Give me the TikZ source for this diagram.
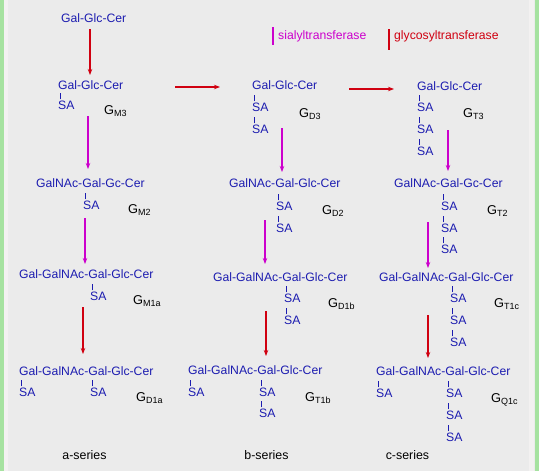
\documentclass[tikz,border=0pt]{standalone}
\usepackage{fontspec}
\setmainfont{Liberation Sans}
\usetikzlibrary{arrows.meta}
\definecolor{bgc}{HTML}{EBEBEB}
\definecolor{greenstrip}{HTML}{A6E2A0}
\definecolor{lightstrip}{HTML}{F3F1F1}
\definecolor{blueT}{HTML}{1C1CB0}
\definecolor{magc}{HTML}{CC00CC}
\definecolor{redc}{HTML}{D00010}
\tikzset{
  txt/.style={anchor=base west, inner sep=0pt, yshift=-4.4pt, font=\fontsize{12.2}{14}\selectfont, text=blueT},
  lbl/.style={anchor=base west, inner sep=0pt, yshift=-4.4pt, font=\fontsize{12.8}{14}\selectfont, text=black},
  ser/.style={anchor=center, inner sep=0pt, font=\fontsize{12.4}{14}\selectfont, text=black},
  leg/.style={anchor=west, inner sep=0pt, font=\fontsize{12.2}{14}\selectfont},
  bar/.style={draw=blueT, line width=0.9pt},
  legbar/.style={line width=1.3pt},
  redarrow/.style={draw=redc, line width=1.1pt, -{Stealth[length=6pt,width=4.5pt]}},
  magarrow/.style={draw=magc, line width=1.1pt, -{Stealth[length=6pt,width=4.5pt]}},
}
\newcommand{\sabar}[1]{\draw[bar] ([shift={(2.6,-1.4)}]#1.north west) -- ++(0,-6.2);}
\begin{document}
\begin{tikzpicture}[x=1pt,y=-1pt]
\useasboundingbox (0,0) rectangle (539,471);
% background
\fill[bgc] (0,0) rectangle (539,471);
\fill[greenstrip] (0,0) rectangle (3.5,471);
\fill[lightstrip] (3.5,0) rectangle (8,471);
\fill[lightstrip] (529,0) rectangle (534,471);
\fill[greenstrip] (534.5,0) rectangle (539,471);

% legend
\node[leg, text=magc] (legS) at (278,36) {sialyltransferase};
\coordinate (lsa) at (273,27); \coordinate (lsb) at (273,45);
\draw[legbar, draw=magc] (lsa) -- (lsb);
\node[leg, text=redc] (legG) at (394,36) {glycosyltransferase};
\coordinate (lga) at (389,29); \coordinate (lgb) at (389,50);
\draw[legbar, draw=redc] (lga) -- (lgb);

% top
\node[txt] (top) at (61,18) {Gal-Glc-Cer};

% GM3
\node[txt] (gm3) at (58,85) {Gal-Glc-Cer};
\node[txt] (gm3s1) at (58,105) {SA};
\node[lbl] (gm3l) at (104,110) {G\textsubscript{M3}};
\sabar{gm3s1}

% GD3
\node[txt] (gd3) at (252,85) {Gal-Glc-Cer};
\node[txt] (gd3s1) at (252,107) {SA};
\node[txt] (gd3s2) at (252,129) {SA};
\node[lbl] (gd3l) at (299,113) {G\textsubscript{D3}};
\sabar{gd3s1}\sabar{gd3s2}

% GT3
\node[txt] (gt3) at (417,86) {Gal-Glc-Cer};
\node[txt] (gt3s1) at (417,107) {SA};
\node[txt] (gt3s2) at (417,129) {SA};
\node[txt] (gt3s3) at (417,151) {SA};
\node[lbl] (gt3l) at (463,113) {G\textsubscript{T3}};
\sabar{gt3s1}\sabar{gt3s2}\sabar{gt3s3}

% GM2
\node[txt] (gm2) at (36,183) {GalNAc-Gal-Gc-Cer};
\node[txt] (gm2s1) at (83,205) {SA};
\node[lbl] (gm2l) at (128,209) {G\textsubscript{M2}};
\sabar{gm2s1}

% GD2
\node[txt] (gd2) at (229,183) {GalNAc-Gal-Glc-Cer};
\node[txt] (gd2s1) at (276,206) {SA};
\node[txt] (gd2s2) at (276,228) {SA};
\node[lbl] (gd2l) at (322,210) {G\textsubscript{D2}};
\sabar{gd2s1}\sabar{gd2s2}

% GT2
\node[txt] (gt2) at (394,183) {GalNAc-Gal-Gc-Cer};
\node[txt] (gt2s1) at (441,206) {SA};
\node[txt] (gt2s2) at (441,228) {SA};
\node[txt] (gt2s3) at (441,249) {SA};
\node[lbl] (gt2l) at (487,210) {G\textsubscript{T2}};
\sabar{gt2s1}\sabar{gt2s2}\sabar{gt2s3}

% GM1a
\node[txt] (gm1a) at (19,274) {Gal-GalNAc-Gal-Glc-Cer};
\node[txt] (gm1as1) at (90,296) {SA};
\node[lbl] (gm1al) at (133,300) {G\textsubscript{M1a}};
\sabar{gm1as1}

% GD1b
\node[txt] (gd1b) at (213,277) {Gal-GalNAc-Gal-Glc-Cer};
\node[txt] (gd1bs1) at (284,298) {SA};
\node[txt] (gd1bs2) at (284,320) {SA};
\node[lbl] (gd1bl) at (328,303) {G\textsubscript{D1b}};
\sabar{gd1bs1}\sabar{gd1bs2}

% GT1c
\node[txt] (gt1c) at (379,277) {Gal-GalNAc-Gal-Glc-Cer};
\node[txt] (gt1cs1) at (450,298) {SA};
\node[txt] (gt1cs2) at (450,320) {SA};
\node[txt] (gt1cs3) at (450,342) {SA};
\node[lbl] (gt1cl) at (494,303) {G\textsubscript{T1c}};
\sabar{gt1cs1}\sabar{gt1cs2}\sabar{gt1cs3}

% GD1a
\node[txt] (gd1a) at (19,371) {Gal-GalNAc-Gal-Glc-Cer};
\node[txt] (gd1as0) at (19,392) {SA};
\node[txt] (gd1as1) at (90,392) {SA};
\node[lbl] (gd1al) at (136,397) {G\textsubscript{D1a}};
\sabar{gd1as0}\sabar{gd1as1}

% GT1b
\node[txt] (gt1b) at (188,370) {Gal-GalNAc-Gal-Glc-Cer};
\node[txt] (gt1bs0) at (188,392) {SA};
\node[txt] (gt1bs1) at (259,392) {SA};
\node[txt] (gt1bs2) at (259,413) {SA};
\node[lbl] (gt1bl) at (305,397) {G\textsubscript{T1b}};
\sabar{gt1bs0}\sabar{gt1bs1}\sabar{gt1bs2}

% GQ1c
\node[txt] (gq1c) at (376,371) {Gal-GalNAc-Gal-Glc-Cer};
\node[txt] (gq1cs0) at (376,393) {SA};
\node[txt] (gq1cs1) at (446,393) {SA};
\node[txt] (gq1cs2) at (446,415) {SA};
\node[txt] (gq1cs3) at (446,437) {SA};
\node[lbl] (gq1cl) at (491,398) {G\textsubscript{Q1c}};
\sabar{gq1cs0}\sabar{gq1cs1}\sabar{gq1cs2}\sabar{gq1cs3}

% series
\node[ser] (sa) at (84.5,455) {a-series};
\node[ser] (sb) at (266.5,455) {b-series};
\node[ser] (sc) at (407.5,455) {c-series};

% arrow ends
\coordinate (r1a) at (90,29);  \coordinate (r1b) at (90,75);
\coordinate (r2a) at (175,87); \coordinate (r2b) at (220,87);
\coordinate (r3a) at (349,89); \coordinate (r3b) at (394,89);
\coordinate (m1a) at (88,116); \coordinate (m1b) at (88,169);
\coordinate (m2a) at (282,128); \coordinate (m2b) at (282,172);
\coordinate (m3a) at (448,130); \coordinate (m3b) at (448,171);
\coordinate (m4a) at (85,218); \coordinate (m4b) at (85,264);
\coordinate (m5a) at (265,220); \coordinate (m5b) at (265,264);
\coordinate (m6a) at (428,222); \coordinate (m6b) at (428,268);
\coordinate (r4a) at (83,307); \coordinate (r4b) at (83,354);
\coordinate (r5a) at (266,311); \coordinate (r5b) at (266,356);
\coordinate (r6a) at (428,315); \coordinate (r6b) at (428,358);

\draw[redarrow] (r1a) -- (r1b);
\draw[redarrow] (r2a) -- (r2b);
\draw[redarrow] (r3a) -- (r3b);
\draw[magarrow] (m1a) -- (m1b);
\draw[magarrow] (m2a) -- (m2b);
\draw[magarrow] (m3a) -- (m3b);
\draw[magarrow] (m4a) -- (m4b);
\draw[magarrow] (m5a) -- (m5b);
\draw[magarrow] (m6a) -- (m6b);
\draw[redarrow] (r4a) -- (r4b);
\draw[redarrow] (r5a) -- (r5b);
\draw[redarrow] (r6a) -- (r6b);
\end{tikzpicture}
\end{document}
